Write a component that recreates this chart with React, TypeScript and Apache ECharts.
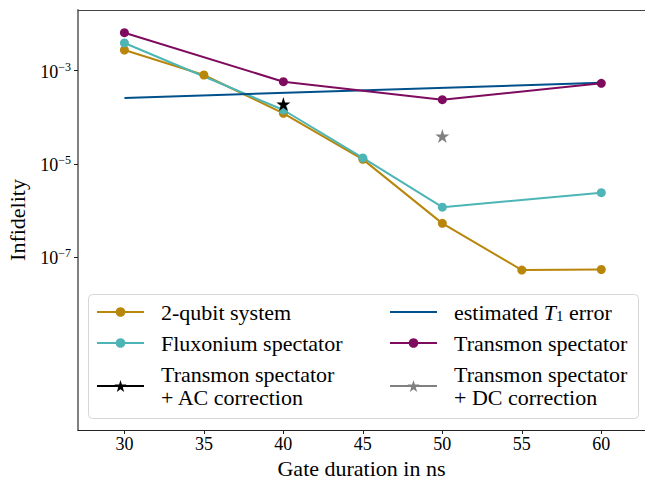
import React, { useEffect, useRef } from 'react';
import * as echarts from 'echarts';

// ---- data ----
const durations = [30, 35, 40, 45, 50, 55, 60];
const twoQubit = [2.78e-3, 8.1e-4, 1.22e-4, 1.26e-5, 5.36e-7, 5.35e-8, 5.5e-8];
const fluxoniumDur = [30, 40, 45, 50, 60];
const fluxonium = [3.93e-3, 1.44e-4, 1.35e-5, 1.19e-6, 2.43e-6];
const transmonDur = [30, 40, 50, 60];
const transmon = [6.53e-3, 5.81e-4, 2.39e-4, 5.37e-4];
const t1Dur = [30, 60];
const t1Error = [2.6e-4, 5.53e-4];
const acDur = [40];
const acCorrection = [1.93e-4];
const dcDur = [50];
const dcCorrection = [3.98e-5];
const xTicks = [30, 35, 40, 45, 50, 55, 60];
const yTicks = [1e-3, 1e-5, 1e-7];

const N_2Q = '2-qubit system';
const N_FLUX = 'Fluxonium spectator';
const N_AC = 'Transmon spectator + AC correction';
const N_T1 = 'estimated T1 error';
const N_TR = 'Transmon spectator';
const N_DC = 'Transmon spectator + DC correction';

const GOLD = '#B8860B';
const TEAL = '#4DB5B5';
const PURPLE = '#7E0B5E';
const BLUE = '#00508C';
const GRAY = '#808080';
const BLACK = '#000000';

const serif = "'Liberation Serif', 'DejaVu Serif', 'Times New Roman', serif";
const starPath =
  'path://M50,0L61.2,34.5L97.6,34.5L68.2,55.9L79.4,90.5L50,69.1L20.6,90.5L31.8,55.9L2.4,34.5L38.8,34.5Z';

const pairs = (xs: number[], ys: number[]) => xs.map((x, i) => [x, ys[i]]);

const legendFormatter = (name: string) => {
  if (name === N_T1) return 'estimated {it|T}{sub|1} error';
  if (name === N_AC) return 'Transmon spectator\n+ AC correction';
  if (name === N_DC) return 'Transmon spectator\n+ DC correction';
  return name;
};

const legendCommon = {
  orient: 'vertical',
  itemWidth: 47,
  itemHeight: 12,
  itemGap: 9,
  padding: 0,
  selectedMode: false,
  formatter: legendFormatter,
  textStyle: {
    fontFamily: serif,
    fontSize: 22,
    lineHeight: 22,
    color: '#000',
    padding: [0, 0, 0, 12],
    rich: {
      it: { fontFamily: serif, fontSize: 22, fontStyle: 'italic', color: '#000', lineHeight: 22 },
      sub: { fontFamily: serif, fontSize: 15, color: '#000', verticalAlign: 'bottom', lineHeight: 16 },
    },
  },
};

const legendTwoLine = {
  ...legendCommon,
  itemHeight: 15,
  textStyle: { ...legendCommon.textStyle, lineHeight: 23 },
};

export default function App() {
  const ref = useRef<HTMLDivElement>(null);
  useEffect(() => {
    if (!ref.current) return;
    const chart = echarts.init(ref.current, null, { renderer: 'svg' });
    const line = (name: string, xs: number[], ys: number[], color: string, symbol: string, size: number) => ({
      name,
      type: 'line',
      data: pairs(xs, ys),
      symbol,
      symbolSize: size,
      showSymbol: symbol !== 'none',
      lineStyle: { width: 2, color },
      itemStyle: { color },
      clip: true,
    });
    chart.setOption({
      animation: false,
      backgroundColor: '#ffffff',
      grid: { left: 78, right: 0, top: 10, bottom: 47, containLabel: false, outerBoundsMode: 'none' },
      xAxis: [
        {
          type: 'value',
          min: 27.08,
          max: 62.75,
          position: 'bottom',
          axisLine: { show: true, onZero: false, lineStyle: { color: '#222', width: 1.2 } },
          axisTick: { show: true, customValues: xTicks, length: 4, lineStyle: { color: '#222', width: 1 } },
          axisLabel: { customValues: xTicks, fontFamily: serif, fontSize: 18, color: '#000', margin: 5 },
          splitLine: { show: false },
          name: 'Gate duration in ns',
          nameLocation: 'middle',
          nameGap: 23,
          nameTextStyle: { fontFamily: serif, fontSize: 22, lineHeight: 20, color: '#000' },
        },
        {
          type: 'value',
          min: 27.08,
          max: 62.75,
          position: 'top',
          axisLine: { show: true, onZero: false, lineStyle: { color: '#444', width: 1.2 } },
          axisTick: { show: false },
          axisLabel: { show: false },
          splitLine: { show: false },
        },
      ],
      yAxis: {
        type: 'log',
        logBase: 10,
        min: 2e-11,
        max: 2e-2,
        axisLine: { show: true, onZero: false, lineStyle: { color: '#808080', width: 2 } },
        axisTick: { show: true, customValues: yTicks, length: 4, lineStyle: { color: '#222', width: 1 } },
        minorTick: { show: false },
        splitLine: { show: false },
        axisLabel: {
          customValues: yTicks,
          margin: 7,
          formatter: (v: number) => {
            const e = Math.round(Math.log10(v));
            return '{b|10}{s|\u2212' + Math.abs(e) + '}';
          },
          rich: {
            b: { fontFamily: serif, fontSize: 18, color: '#000', lineHeight: 20, verticalAlign: 'bottom' },
            s: { fontFamily: serif, fontSize: 12, color: '#000', lineHeight: 12, verticalAlign: 'top' },
          },
        },
        name: 'Infidelity',
        nameLocation: 'middle',
        nameGap: 50,
        nameTextStyle: { fontFamily: serif, fontSize: 22, color: '#000' },
      },
      legend: [
        { ...legendCommon, data: [N_2Q, N_FLUX], left: 96, top: 301 },
        {
          ...legendCommon,
          data: [{ name: N_T1, itemStyle: { opacity: 0 } }, N_TR],
          left: 389,
          top: 301,
        },
        { ...legendTwoLine, data: [N_AC], left: 96, top: 363 },
        { ...legendTwoLine, data: [N_DC], left: 389, top: 363 },
      ],
      graphic: [
        {
          type: 'rect',
          z: 3,
          shape: { x: 88.5, y: 294.5, width: 550, height: 124, r: 4 },
          style: { fill: 'rgba(255,255,255,0.85)', stroke: '#d6d6d6', lineWidth: 1 },
        },
      ],
      series: [
        line(N_2Q, durations, twoQubit, GOLD, 'circle', 9),
        line(N_FLUX, fluxoniumDur, fluxonium, TEAL, 'circle', 9),
        line(N_AC, acDur, acCorrection, BLACK, starPath, 14),
        line(N_T1, t1Dur, t1Error, BLUE, 'none', 0),
        line(N_TR, transmonDur, transmon, PURPLE, 'circle', 9),
        line(N_DC, dcDur, dcCorrection, GRAY, starPath, 14),
      ],
    });
    return () => chart.dispose();
  }, []);
  return (
    <div
      ref={ref}
      style={{ position: 'absolute', left: 0, top: 0, width: 645, height: 477, background: '#fff' }}
    />
  );
}
